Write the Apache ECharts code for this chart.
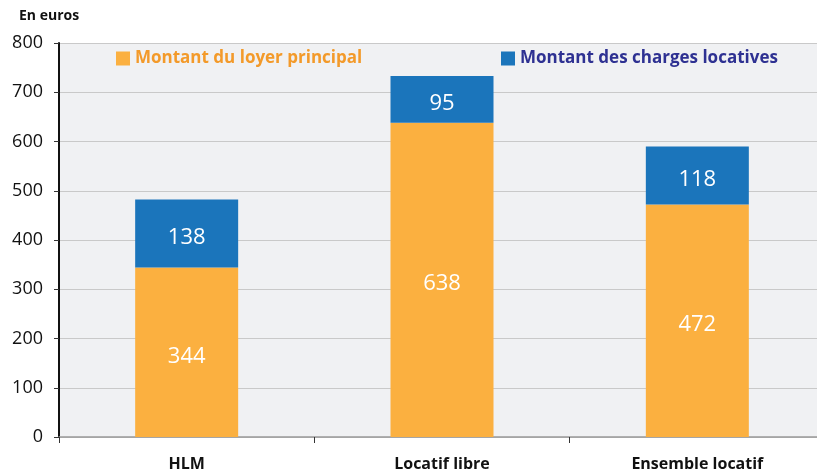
<!DOCTYPE html>
<html>
<head>
<meta charset="utf-8">
<script src="https://cdn.jsdelivr.net/npm/echarts@6/dist/echarts.min.js"></script>
<style>
  html, body { margin: 0; padding: 0; background: #fff; overflow: hidden; }
  #chart { width: 825px; height: 472px; }
</style>
</head>
<body>
<div id="chart"></div>
<script>
var categories = ['HLM', 'Locatif libre', 'Ensemble locatif'];
var loyer = [344, 638, 472];
var charges = [138, 95, 118];
var yTicks = [0, 100, 200, 300, 400, 500, 600, 700, 800];

var myChart = echarts.init(document.getElementById('chart'));
var font = 'Open Sans';

option = {
    backgroundColor: '#ffffff',
    textStyle: { fontFamily: font },
    graphic: [{
        type: 'text',
        left: 19,
        top: 9,
        style: { text: 'En euros', fontFamily: font, fontSize: 14, fontWeight: 'bold', fill: '#111' }
    }],
    legend: [{
        top: 45,
        left: 111,
        itemWidth: 14,
        itemHeight: 14,
        icon: 'rect',
        data: [{ name: 'Montant du loyer principal', textStyle: { color: '#f39a2a' } }],
        textStyle: { fontSize: 17, fontWeight: 'bold', fontFamily: font }
    }, {
        top: 45,
        left: 496,
        itemWidth: 14,
        itemHeight: 14,
        icon: 'rect',
        data: [{ name: 'Montant des charges locatives', textStyle: { color: '#2e3192' } }],
        textStyle: { fontSize: 17, fontWeight: 'bold', fontFamily: font }
    }],
    grid: {
        left: 59,
        right: 0,
        top: 43,
        bottom: 35,
        show: true,
        backgroundColor: '#f0f1f3',
        borderWidth: 0
    },
    xAxis: {
        type: 'category',
        data: categories,
        axisLine: { lineStyle: { color: '#999', width: 1.5 } },
        axisTick: { show: true, length: 6, lineStyle: { color: '#333' } },
        axisLabel: { color: '#111', fontSize: 16, fontWeight: 'bold', margin: 19 }
    },
    yAxis: {
        type: 'value',
        min: yTicks[0],
        max: yTicks[yTicks.length - 1],
        interval: 100,
        axisLine: { show: true, lineStyle: { color: '#111', width: 2 } },
        axisTick: { show: true, length: 5, lineStyle: { color: '#333' } },
        splitLine: { lineStyle: { color: '#c9c9c9' } },
        axisLabel: { color: '#111', fontSize: 18, margin: 16 }
    },
    series: [{
        name: 'Montant du loyer principal',
        type: 'bar',
        stack: 'total',
        barWidth: 103,
        data: loyer,
        itemStyle: { color: '#fbb040' },
        label: { show: true, position: 'inside', offset: [0, 4], color: '#fff', fontSize: 22 }
    }, {
        name: 'Montant des charges locatives',
        type: 'bar',
        stack: 'total',
        barWidth: 103,
        data: charges,
        itemStyle: { color: '#1b75bb' },
        label: { show: true, position: 'inside', offset: [0, 4], color: '#fff', fontSize: 22 }
    }]
};

myChart.setOption(option);
</script>
</body>
</html>
